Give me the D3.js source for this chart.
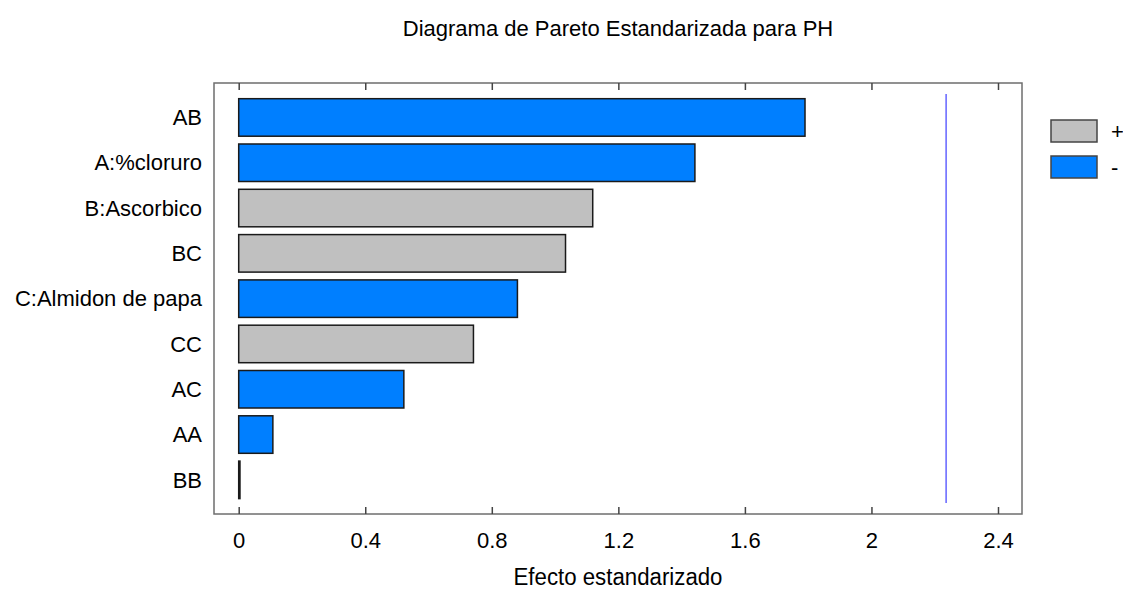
<!DOCTYPE html>
<html>
<head>
<meta charset="utf-8">
<script src="https://cdn.jsdelivr.net/npm/d3@7"></script>
<style>
body { margin: 0; background: #fff; }
text { font-family: "Liberation Sans", Arial, sans-serif; fill: #000; }
</style>
</head>
<body>
<svg id="chart" width="1123" height="591"></svg>
<script>
var factors = ['AB', 'A:%cloruro', 'B:Ascorbico', 'BC', 'C:Almidon de papa', 'CC', 'AC', 'AA', 'BB'];
var effects = [1.79, 1.442, 1.119, 1.033, 0.881, 0.742, 0.522, 0.108, 0.004];
var signs = ['-', '-', '+', '+', '-', '+', '-', '-', '-'];
var xTicks = [0, 0.4, 0.8, 1.2, 1.6, 2, 2.4];
var legendKeys = ['+', '-'];
var critical = 2.236;

var svg = d3.select('#chart');
var plotLeft = 214, plotRight = 1022, plotTop = 83, plotBottom = 514;
var fontFam = '"Liberation Sans", Arial, sans-serif';

var xScale = d3.scaleLinear()
	.domain([0, 2.4])
	.range([238.7, 998]);
var yScale = d3.scaleBand()
	.domain(factors)
	.range([90.9, 506.4])
	.padding(0.172);
var color = d3.scaleOrdinal()
	.domain(legendKeys)
	.range(['#c0c0c0', '#007fff']);

var data = factors.map((f, i) => ({factor: f, effect: effects[i], sign: signs[i]}));

// frame
svg.append('rect')
	.attr('x', plotLeft)
	.attr('y', plotTop)
	.attr('width', plotRight - plotLeft)
	.attr('height', plotBottom - plotTop)
	.attr('fill', 'none')
	.attr('stroke', '#6e6e6e')
	.attr('stroke-width', 1.5);

// ticks top and bottom (inside)
svg.append('g')
	.attr('transform', `translate(0,${plotBottom})`)
	.call(d3.axisBottom(xScale).tickValues(xTicks).tickSize(-7).tickPadding(18).tickFormat(d3.format('')))
	.call(g => g.select('.domain').remove())
	.call(g => g.selectAll('line').attr('stroke', '#444').attr('stroke-width', 1.5))
	.call(g => g.selectAll('text').attr('font-size', 22).attr('dy', '0.71em').style('font-family', fontFam));
svg.append('g')
	.attr('transform', `translate(0,${plotTop})`)
	.call(d3.axisTop(xScale).tickValues(xTicks).tickSize(-7).tickFormat(''))
	.call(g => g.select('.domain').remove())
	.call(g => g.selectAll('line').attr('stroke', '#444').attr('stroke-width', 1.5));

// bars
svg.selectAll('rect.bar')
	.data(data)
	.enter()
	.append('rect')
	.attr('class', 'bar')
	.attr('x', xScale(0))
	.attr('y', d => yScale(d.factor))
	.attr('width', d => xScale(d.effect) - xScale(0))
	.attr('height', yScale.bandwidth())
	.attr('fill', d => color(d.sign))
	.attr('stroke', '#1a1a1a')
	.attr('stroke-width', 1.5);

// category labels
svg.selectAll('text.cat')
	.data(factors)
	.enter()
	.append('text')
	.attr('class', 'cat')
	.attr('x', 202)
	.attr('y', d => yScale(d) + yScale.bandwidth() / 2)
	.attr('dy', '0.35em')
	.attr('text-anchor', 'end')
	.attr('font-size', 22)
	.text(d => d);

// critical line
svg.append('line')
	.attr('x1', xScale(critical))
	.attr('x2', xScale(critical))
	.attr('y1', 94)
	.attr('y2', 503)
	.attr('stroke', '#6464ff')
	.attr('stroke-width', 1.5);

// legend
var legend = svg.selectAll('g.leg')
	.data(legendKeys)
	.enter()
	.append('g')
	.attr('class', 'leg')
	.attr('transform', (d, i) => `translate(1051,${120 + i * 36})`);
legend.append('rect')
	.attr('width', 46)
	.attr('height', 22)
	.attr('fill', d => color(d))
	.attr('stroke', '#444')
	.attr('stroke-width', 1.5);
legend.append('text')
	.attr('x', 60)
	.attr('y', 11)
	.attr('dy', '0.35em')
	.attr('font-size', 22)
	.text(d => d);

// title and axis title
svg.append('text')
	.attr('x', 618)
	.attr('y', 36)
	.attr('text-anchor', 'middle')
	.attr('font-size', 22)
	.text('Diagrama de Pareto Estandarizada para PH');
svg.append('text')
	.attr('x', 618)
	.attr('y', 585)
	.attr('text-anchor', 'middle')
	.attr('font-size', 23)
	.attr('textLength', 209)
	.attr('lengthAdjust', 'spacingAndGlyphs')
	.text('Efecto estandarizado');
</script>
</body>
</html>
